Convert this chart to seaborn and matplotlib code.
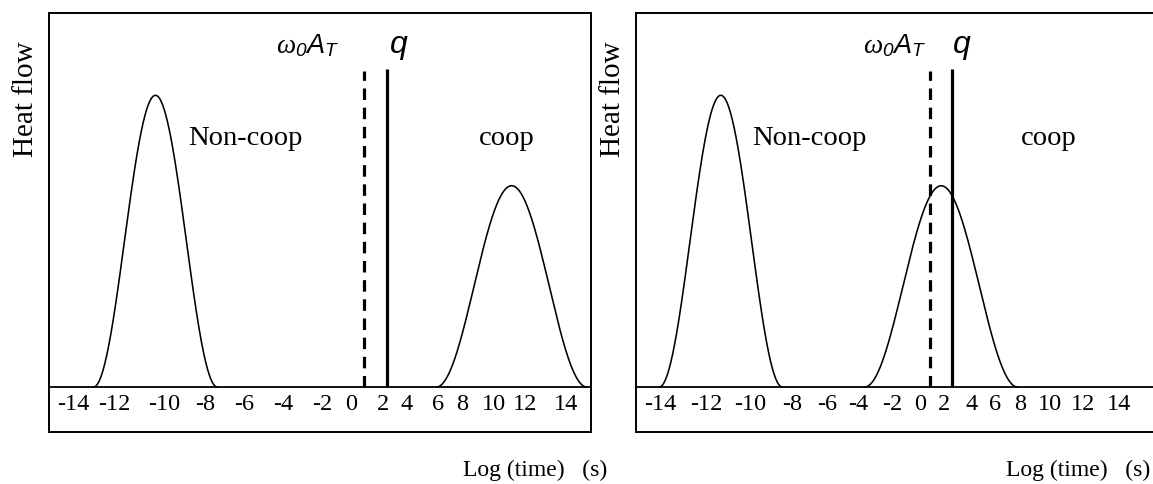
import numpy as np
import pandas as pd
import matplotlib
matplotlib.use("Agg")
import matplotlib.pyplot as plt
import seaborn as sns

# Heat-flow peaks (log-time units): Non-coop and coop relaxations
peak_names = ["Non-coop", "coop"]
peak_heights = [1.0, 0.69]
left_centers = [-10.64, 10.40]
left_half_widths = [3.66, 4.45]
right_centers = [-11.96, 2.28]
right_half_widths = [3.98, 4.95]

# Characteristic times: omega0*A_T (dashed) and q (solid)
left_marks = [1.70, 3.05]
right_marks = [1.55, 2.99]
mark_tops = [1.083, 1.09]

# Typed labels along the time strip and where each one sits
tick_labels = ["-14", "-12", "-10", "-8", "-6", "-4", "-2", "0",
               "2", "4", "6", "8", "10", "12", "14"]
left_tick_slots = [-15.52, -13.05, -10.10, -7.70, -5.40, -3.11, -0.81, 0.94,
                   2.79, 4.22, 6.07, 7.49, 9.35, 11.20, 13.61]
right_tick_slots = [-15.86, -12.91, -10.07, -7.36, -5.11, -3.10, -0.86, 0.92,
                    2.45, 4.22, 5.75, 7.41, 9.30, 11.43, 13.78]

sns.set_theme(style="white")
plt.rcParams["font.family"] = ["Liberation Serif", "DejaVu Serif"]
plt.rcParams["mathtext.fontset"] = "custom"
plt.rcParams["mathtext.rm"] = "Liberation Serif"
plt.rcParams["mathtext.it"] = "Liberation Serif:italic"
plt.rcParams["mathtext.sf"] = "Liberation Sans:italic"

fig = plt.figure(figsize=(11.53, 4.85), dpi=100)
ax_left = fig.add_axes([0.0423, 0.1072, 0.4703, 0.8639])
ax_right = fig.add_axes([0.5516, 0.1072, 0.4703, 0.8639])

YLIM = (-0.154, 1.282)


def bell(center, half_width, height):
    x = np.linspace(center - half_width, center + half_width, 400)
    y = height * np.cos(np.pi * (x - center) / (2 * half_width)) ** 2
    return pd.DataFrame({"log_time": x, "heat_flow": y})


def draw_panel(ax, centers, half_widths, marks, slots, xlim,
               label_x, omega_x, q_x, xlabel_x):
    for c, w, h in zip(centers, half_widths, peak_heights):
        sns.lineplot(data=bell(c, w, h), x="log_time", y="heat_flow",
                     ax=ax, color="black", linewidth=1.15, sort=False)

    ax.vlines(marks[0], 0, mark_tops[0], colors="black", linewidth=2.3,
              linestyles=[(0, (3.6, 2.4))])
    ax.vlines(marks[1], 0, mark_tops[1], colors="black", linewidth=2.3)

    ax.set_xlim(*xlim)
    ax.set_ylim(*YLIM)
    ax.set_xticks([])
    ax.set_yticks([])
    for sp in ax.spines.values():
        sp.set_color("black")
        sp.set_linewidth(1.4)

    # baseline strip carrying the typed time labels
    base = (0 - YLIM[0]) / (YLIM[1] - YLIM[0])
    strip = ax.secondary_xaxis(base)
    strip.spines["bottom"].set_color("black")
    strip.spines["bottom"].set_linewidth(1.3)
    strip.set_xticks(slots, labels=tick_labels)
    strip.tick_params(length=0, pad=4.5, labelsize=17.5, colors="black")

    for name, lx in zip(peak_names, label_x):
        ax.text(lx, 0.833, name, ha="center", va="baseline",
                fontsize=20.5, color="black")

    ax.text(omega_x, 1.147, r"$\omega_{\mathsf{0}}\mathsf{A}_{\mathsf{T}}$",
            ha="left", va="baseline", fontsize=19.5, color="black")
    ax.text(q_x, 1.147, "q", ha="left", va="baseline", fontsize=23,
            family="Liberation Sans", style="italic", color="black")

    ax.set_ylabel("Heat flow", fontsize=21, color="black", va="center")
    ax.yaxis.set_label_coords(-0.042, 0.796)
    ax.set_xlabel("Log (time)   (s)", fontsize=17, color="black",
                  ha="right", va="center")
    ax.xaxis.set_label_coords(xlabel_x, -0.0883)


draw_panel(ax_left, left_centers, left_half_widths, left_marks,
           left_tick_slots, (-16.94, 15.09),
           label_x=[-5.35, 10.12], omega_x=-3.50, q_x=3.21, xlabel_x=1.0295)
draw_panel(ax_right, right_centers, right_half_widths, right_marks,
           right_tick_slots, (-17.44, 17.60),
           label_x=[-6.26, 9.23], omega_x=-2.80, q_x=3.05, xlabel_x=0.948)

fig.savefig("out.png", dpi=100, facecolor="white")
